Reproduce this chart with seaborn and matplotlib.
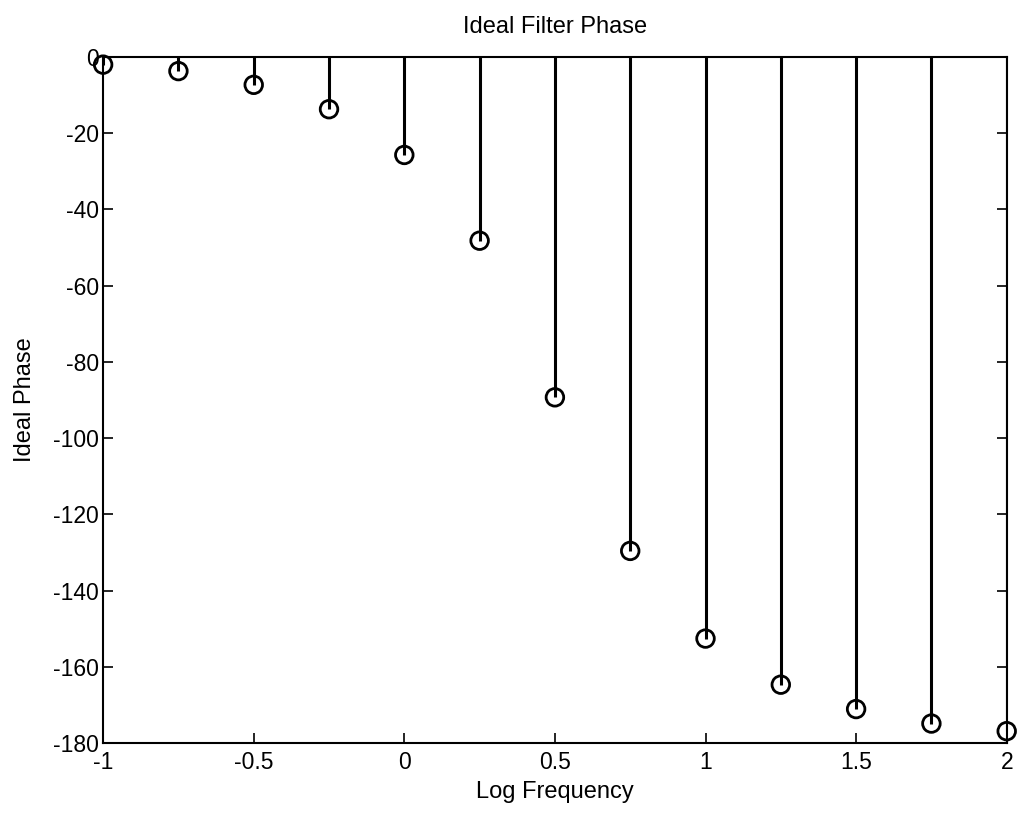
import numpy as np
import seaborn as sns
import matplotlib
matplotlib.use("Agg")
import matplotlib.pyplot as plt

# log frequency points and the ideal phase
log_freq = [-1.0, -0.75, -0.5, -0.25, 0.0, 0.25, 0.5, 0.75, 1.0, 1.25, 1.5, 1.75, 2.0]
phase = [-2.0, -3.7, -7.3, -13.7, -25.7, -48.2, -89.3, -129.6, -152.6, -164.7, -171.1, -174.9, -176.9]

x_ticks = [-1, -0.5, 0, 0.5, 1, 1.5, 2]
x_tick_labels = ["-1", "-0.5", "0", "0.5", "1", "1.5", "2"]
y_ticks = list(range(-180, 1, 20))

sns.set_style("ticks")
plt.rcParams["font.family"] = ["Liberation Sans", "DejaVu Sans"]
plt.rcParams["axes.unicode_minus"] = False
plt.rcParams["text.color"] = "black"
plt.rcParams["axes.labelcolor"] = "black"

fig = plt.figure(figsize=(10.21, 8.18), dpi=100)
ax = fig.add_axes([0.101, 0.0917, 0.885, 0.8386])

# stems from zero down to each value, then the open circles
ax.vlines(log_freq, 0, phase, color="black", linewidth=2.2, zorder=2)
sns.scatterplot(x=log_freq, y=phase, ax=ax, marker="o", s=160,
                facecolor="none", edgecolor="black", linewidth=2.0, zorder=3,
                clip_on=False)

ax.set_xlim(-1, 2)
ax.set_ylim(-180, 0)
ax.set_xticks(x_ticks)
ax.set_xticklabels(x_tick_labels)
ax.set_yticks(y_ticks)

for side in ["top", "right", "left", "bottom"]:
    ax.spines[side].set_visible(True)
    ax.spines[side].set_linewidth(1.5)
    ax.spines[side].set_color("black")

ax.tick_params(direction="in", length=7, width=1.2, labelsize=16.5, colors="black",
               top=True, right=True)
ax.tick_params(axis="x", pad=6)
ax.tick_params(axis="y", pad=3)

ax.set_title("Ideal Filter Phase", fontsize=17, pad=17)
ax.set_xlabel("Log Frequency", fontsize=17, labelpad=5)
ax.set_ylabel("Ideal Phase", fontsize=17, labelpad=12)

fig.savefig("out.png", dpi=100)
